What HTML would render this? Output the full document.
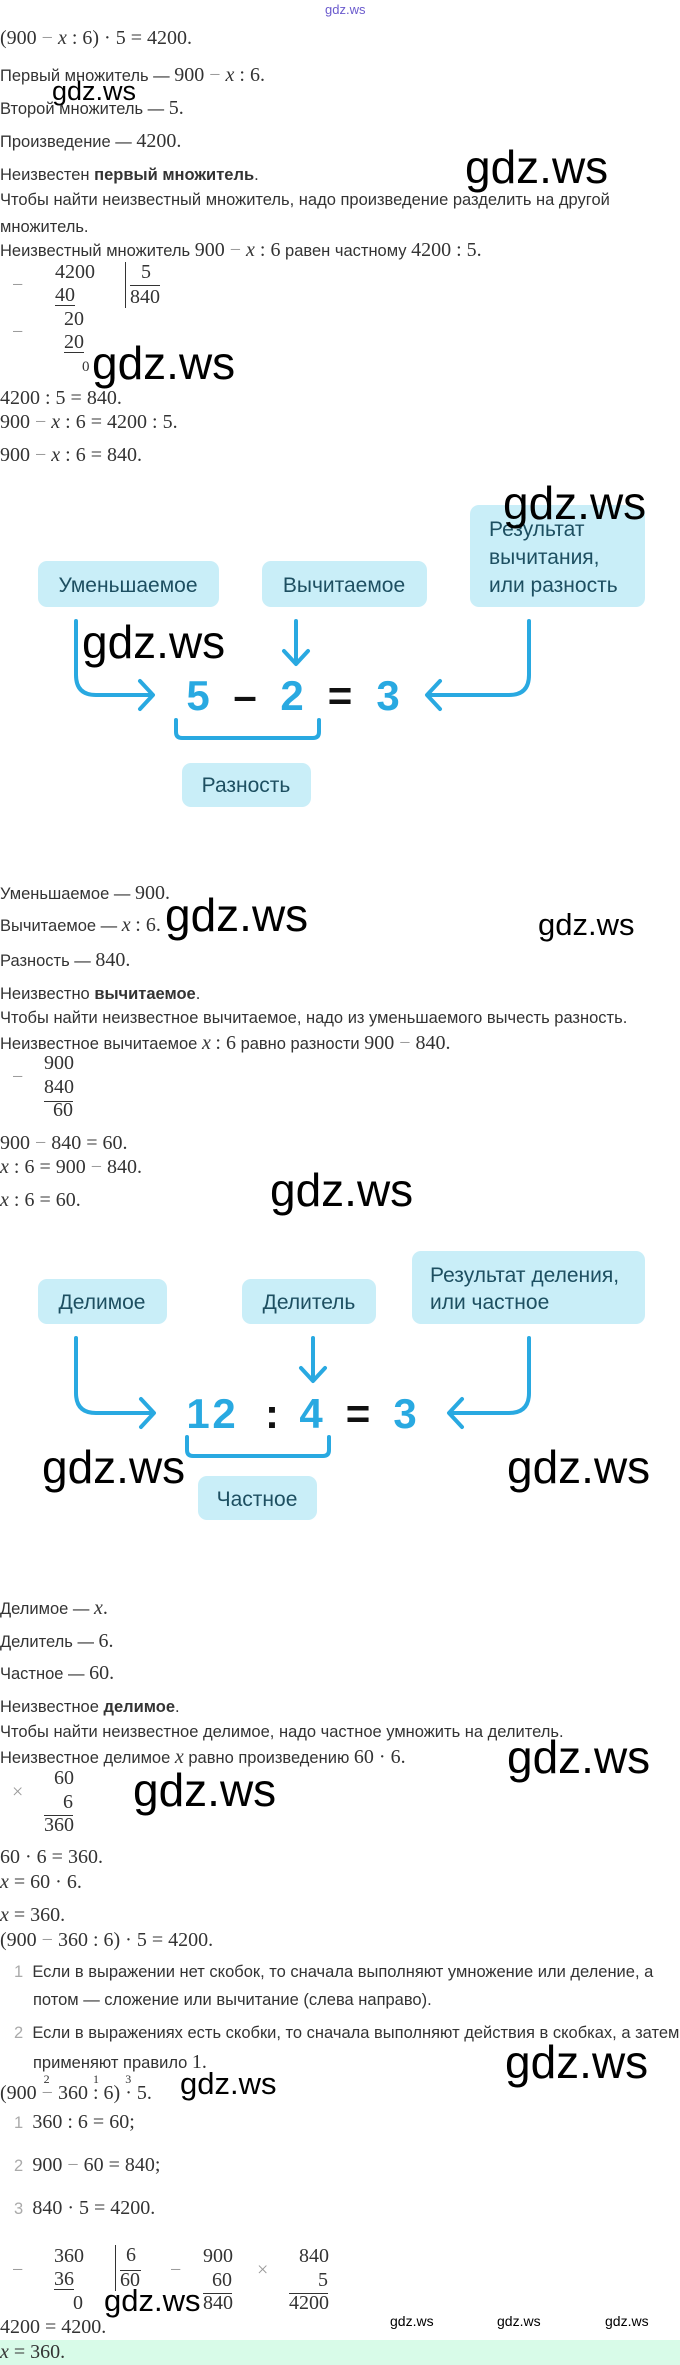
<!DOCTYPE html>
<html><head><meta charset="utf-8"><style>
body{margin:0;width:680px;height:2365px;position:relative;background:#fff;overflow:hidden;color:#333;font-family:"Liberation Sans",sans-serif;font-size:16.5px}
.r{position:absolute;left:0;height:22px;line-height:22px;white-space:nowrap}
.m{font-family:"Liberation Serif",serif;font-size:20px}
.i{font-family:"Liberation Serif",serif;font-style:italic;font-size:20px}
.g{color:#999}
.w{position:absolute;font-family:"Liberation Sans",sans-serif;color:#000;white-space:nowrap;line-height:1}
.a{position:absolute;font-family:"Liberation Serif",serif;font-size:20px;line-height:22px;height:22px}
.u{border-bottom:1px solid #333;line-height:20px;height:20px}
.ln{position:absolute;background:#333}
</style></head><body>
<div class="w" style="left:325px;top:3px;font-size:13px;color:#6a5acd">gdz.ws</div>

<div class="r m" style="top:27px">(900 <span class="g">−</span> <span class="i">x</span> : 6) · 5 = 4200.</div>
<div class="r" style="top:64px">Первый множитель — <span class="m">900 <span class="g">−</span> <span class="i">x</span> : 6.</span></div>
<div class="w" style="left:52px;top:78px;font-size:27px">gdz.ws</div>
<div class="r" style="top:97px">Второй множитель — <span class="m">5.</span></div>
<div class="r" style="top:130px">Произведение — <span class="m">4200.</span></div>
<div class="r" style="top:164px">Неизвестен <b>первый множитель</b>.</div>
<div class="w" style="left:465px;top:144px;font-size:46px">gdz.ws</div>
<div class="r" style="top:189px">Чтобы найти неизвестный множитель, надо произведение разделить на другой</div>
<div class="r" style="top:216px">множитель.</div>
<div class="r" style="top:239px">Неизвестный множитель <span class="m">900 <span class="g">−</span> <span class="i">x</span> : 6</span> равен частному <span class="m">4200 : 5.</span></div>

<div class="a g" style="left:12px;top:274px">−</div>
<div class="a" style="left:55px;top:261px">4200</div>
<div class="a u" style="left:55px;top:285px">40</div>
<div class="ln" style="left:125px;top:262px;width:1px;height:46px"></div>
<div class="a" style="left:141px;top:261px">5</div>
<div class="ln" style="left:130px;top:285px;width:30px;height:1px"></div>
<div class="a" style="left:130px;top:286px">840</div>
<div class="a g" style="left:12px;top:321px">−</div>
<div class="a" style="left:64px;top:308px">20</div>
<div class="a u" style="left:64px;top:332px">20</div>
<div class="a" style="left:82px;top:356px;font-size:15px">0</div>
<div class="w" style="left:92px;top:340px;font-size:46px">gdz.ws</div>

<div class="r m" style="top:387px">4200 : 5 = 840.</div>
<div class="r m" style="top:411px">900 <span class="g">−</span> <span class="i">x</span> : 6 = 4200 : 5.</div>
<div class="r m" style="top:444px">900 <span class="g">−</span> <span class="i">x</span> : 6 = 840.</div>

<svg style="position:absolute;left:0;top:480px" width="680" height="340">
<g fill="#c9eef8">
<rect x="470" y="25" width="175" height="102" rx="9"/>
<rect x="38" y="81" width="181" height="46" rx="9"/>
<rect x="262" y="81" width="165" height="46" rx="9"/>
<rect x="182" y="283" width="129" height="44" rx="9"/>
</g>
<g font-family="Liberation Sans,sans-serif" font-size="21" fill="#1d4f61">
<text x="489" y="56">Результат</text>
<text x="489" y="84">вычитания,</text>
<text x="489" y="112">или разность</text>
<text x="128" y="112" text-anchor="middle">Уменьшаемое</text>
<text x="344" y="112" text-anchor="middle">Вычитаемое</text>
<text x="246" y="312" text-anchor="middle">Разность</text>
</g>
<g fill="none" stroke="#29a9e1" stroke-width="4" stroke-linecap="round" stroke-linejoin="round">
<path d="M76 141 V195 Q76 215 96 215 H152 M140 201 L153 215 L140 229"/>
<path d="M296 141 V183 M284 171 L296 184 L308 171"/>
<path d="M529 141 V195 Q529 215 509 215 H428 M440 201 L427 215 L440 229"/>
<path d="M176 240 V252 Q176 258 182 258 H313 Q319 258 319 252 V240"/>
</g>
<g font-family="Liberation Sans,sans-serif" font-size="42" font-weight="bold" text-anchor="middle">
<text x="198" y="230" fill="#29a9e1">5</text>
<text x="245" y="230" fill="#111">–</text>
<text x="292" y="230" fill="#29a9e1">2</text>
<text x="340" y="230" fill="#111">=</text>
<text x="388" y="230" fill="#29a9e1">3</text>
</g>
</svg>
<div class="w" style="left:503px;top:480px;font-size:46px">gdz.ws</div>
<div class="w" style="left:82px;top:619px;font-size:46px">gdz.ws</div>

<div class="r" style="top:882px">Уменьшаемое — <span class="m">900.</span></div>
<div class="r" style="top:914px">Вычитаемое — <span class="i">x</span> <span class="m">: 6.</span></div>
<div class="w" style="left:165px;top:892px;font-size:46px">gdz.ws</div>
<div class="w" style="left:538px;top:909px;font-size:31px">gdz.ws</div>
<div class="r" style="top:949px">Разность — <span class="m">840.</span></div>
<div class="r" style="top:983px">Неизвестно <b>вычитаемое</b>.</div>
<div class="r" style="top:1007px">Чтобы найти неизвестное вычитаемое, надо из уменьшаемого вычесть разность.</div>
<div class="r" style="top:1032px">Неизвестное вычитаемое <span class="i">x</span> <span class="m">: 6</span> равно разности <span class="m">900 <span class="g">−</span> 840.</span></div>
<div class="a g" style="left:12px;top:1066px">−</div>
<div class="a" style="left:44px;top:1052px">900</div>
<div class="a" style="left:44px;top:1076px">840</div>
<div class="ln" style="left:44px;top:1101px;width:29px;height:1px"></div>
<div class="a" style="left:53px;top:1099px">60</div>
<div class="r m" style="top:1132px">900 <span class="g">−</span> 840 = 60.</div>
<div class="r m" style="top:1156px"><span class="i">x</span> : 6 = 900 <span class="g">−</span> 840.</div>
<div class="r m" style="top:1189px"><span class="i">x</span> : 6 = 60.</div>
<div class="w" style="left:270px;top:1167px;font-size:46px">gdz.ws</div>

<svg style="position:absolute;left:0;top:1230px" width="680" height="300">
<g fill="#c9eef8">
<rect x="412" y="21" width="233" height="73" rx="9"/>
<rect x="38" y="49" width="129" height="45" rx="9"/>
<rect x="242" y="49" width="134" height="45" rx="9"/>
<rect x="198" y="246" width="119" height="44" rx="9"/>
</g>
<g font-family="Liberation Sans,sans-serif" font-size="21" fill="#1d4f61">
<text x="430" y="52">Результат деления,</text>
<text x="430" y="79">или частное</text>
<text x="102" y="79" text-anchor="middle">Делимое</text>
<text x="309" y="79" text-anchor="middle">Делитель</text>
<text x="257" y="276" text-anchor="middle">Частное</text>
</g>
<g fill="none" stroke="#29a9e1" stroke-width="4" stroke-linecap="round" stroke-linejoin="round">
<path d="M76 108 V163 Q76 183 96 183 H153 M141 169 L154 183 L141 197"/>
<path d="M313 108 V150 M301 138 L313 151 L325 138"/>
<path d="M529 108 V163 Q529 183 509 183 H450 M462 169 L449 183 L462 197"/>
<path d="M187 207 V220 Q187 226 193 226 H323 Q329 226 329 220 V207"/>
</g>
<g font-family="Liberation Sans,sans-serif" font-size="42" font-weight="bold" text-anchor="middle">
<text x="198" y="198" fill="#29a9e1">1</text>
<text x="224" y="198" fill="#29a9e1">2</text>
<text x="272" y="198" fill="#111">:</text>
<text x="311" y="198" fill="#29a9e1">4</text>
<text x="358" y="198" fill="#111">=</text>
<text x="405" y="198" fill="#29a9e1">3</text>
</g>
</svg>
<div class="w" style="left:42px;top:1444px;font-size:46px">gdz.ws</div>
<div class="w" style="left:507px;top:1444px;font-size:46px">gdz.ws</div>

<div class="r" style="top:1597px">Делимое — <span class="i">x</span><span class="m">.</span></div>
<div class="r" style="top:1630px">Делитель — <span class="m">6.</span></div>
<div class="r" style="top:1662px">Частное — <span class="m">60.</span></div>
<div class="r" style="top:1696px">Неизвестное <b>делимое</b>.</div>
<div class="r" style="top:1721px">Чтобы найти неизвестное делимое, надо частное умножить на делитель.</div>
<div class="r" style="top:1746px">Неизвестное делимое <span class="i">x</span> равно произведению <span class="m">60 · 6.</span></div>
<div class="w" style="left:507px;top:1734px;font-size:46px">gdz.ws</div>
<div class="a g" style="left:12px;top:1781px">×</div>
<div class="a" style="left:54px;top:1767px">60</div>
<div class="a" style="left:63px;top:1791px">6</div>
<div class="ln" style="left:44px;top:1815px;width:29px;height:1px"></div>
<div class="a" style="left:44px;top:1814px">360</div>
<div class="w" style="left:133px;top:1767px;font-size:46px">gdz.ws</div>
<div class="r m" style="top:1846px">60 · 6 = 360.</div>
<div class="r m" style="top:1871px"><span class="i">x</span> = 60 · 6.</div>
<div class="r m" style="top:1904px"><span class="i">x</span> = 360.</div>
<div class="r m" style="top:1929px">(900 <span class="g">−</span> 360 : 6) · 5 = 4200.</div>
<div class="r" style="top:1961px;left:14px"><span style="color:#aaa">1</span>&nbsp;&nbsp;Если в выражении нет скобок, то сначала выполняют умножение или деление, а</div>
<div class="r" style="top:1989px;left:33px">потом — сложение или вычитание (слева направо).</div>
<div class="r" style="top:2022px;left:14px"><span style="color:#aaa">2</span>&nbsp;&nbsp;Если в выражениях есть скобки, то сначала выполняют действия в скобках, а затем</div>
<div class="r" style="top:2051px;left:33px">применяют правило <span class="m">1.</span></div>
<div class="w" style="left:505px;top:2039px;font-size:46px">gdz.ws</div>
<div class="r m" style="top:2082px">(900 <span class="g" style="position:relative">−<span style="position:absolute;left:2px;top:-14px;font-size:12px;color:#333">2</span></span> 360 <span style="position:relative">:<span style="position:absolute;left:0;top:-14px;font-size:12px">1</span></span> 6) <span style="position:relative">·<span style="position:absolute;left:0;top:-14px;font-size:12px">3</span></span> 5.</div>
<div class="w" style="left:180px;top:2068px;font-size:31px">gdz.ws</div>
<div class="r" style="top:2111px;left:14px"><span style="color:#aaa">1</span>&nbsp;&nbsp;<span class="m">360 : 6 = 60;</span></div>
<div class="r" style="top:2154px;left:14px"><span style="color:#aaa">2</span>&nbsp;&nbsp;<span class="m">900 <span class="g">−</span> 60 = 840;</span></div>
<div class="r" style="top:2197px;left:14px"><span style="color:#aaa">3</span>&nbsp;&nbsp;<span class="m">840 · 5 = 4200.</span></div>

<div class="a g" style="left:12px;top:2259px">−</div>
<div class="a" style="left:54px;top:2245px">360</div>
<div class="a u" style="left:54px;top:2269px">36</div>
<div class="a" style="left:73px;top:2292px">0</div>
<div class="ln" style="left:115px;top:2245px;width:1px;height:46px"></div>
<div class="a" style="left:126px;top:2244px">6</div>
<div class="ln" style="left:120px;top:2270px;width:21px;height:1px"></div>
<div class="a" style="left:120px;top:2269px">60</div>
<div class="a g" style="left:170px;top:2259px">−</div>
<div class="a" style="left:203px;top:2245px">900</div>
<div class="a" style="left:212px;top:2269px">60</div>
<div class="ln" style="left:203px;top:2293px;width:29px;height:1px"></div>
<div class="a" style="left:203px;top:2292px">840</div>
<div class="a g" style="left:257px;top:2259px">×</div>
<div class="a" style="left:299px;top:2245px">840</div>
<div class="a" style="left:318px;top:2269px">5</div>
<div class="ln" style="left:289px;top:2293px;width:39px;height:1px"></div>
<div class="a" style="left:289px;top:2292px">4200</div>
<div class="w" style="left:104px;top:2285px;font-size:31px">gdz.ws</div>
<div class="r m" style="top:2316px">4200 = 4200.</div>
<div class="w" style="left:390px;top:2314px;font-size:14px">gdz.ws</div>
<div class="w" style="left:497px;top:2314px;font-size:14px">gdz.ws</div>
<div class="w" style="left:605px;top:2314px;font-size:14px">gdz.ws</div>
<div style="position:absolute;left:0;top:2340px;width:680px;height:25px;background:#d8fbe8"></div>
<div class="r m" style="top:2341px"><span class="i">x</span> = 360.</div>
</body></html>
